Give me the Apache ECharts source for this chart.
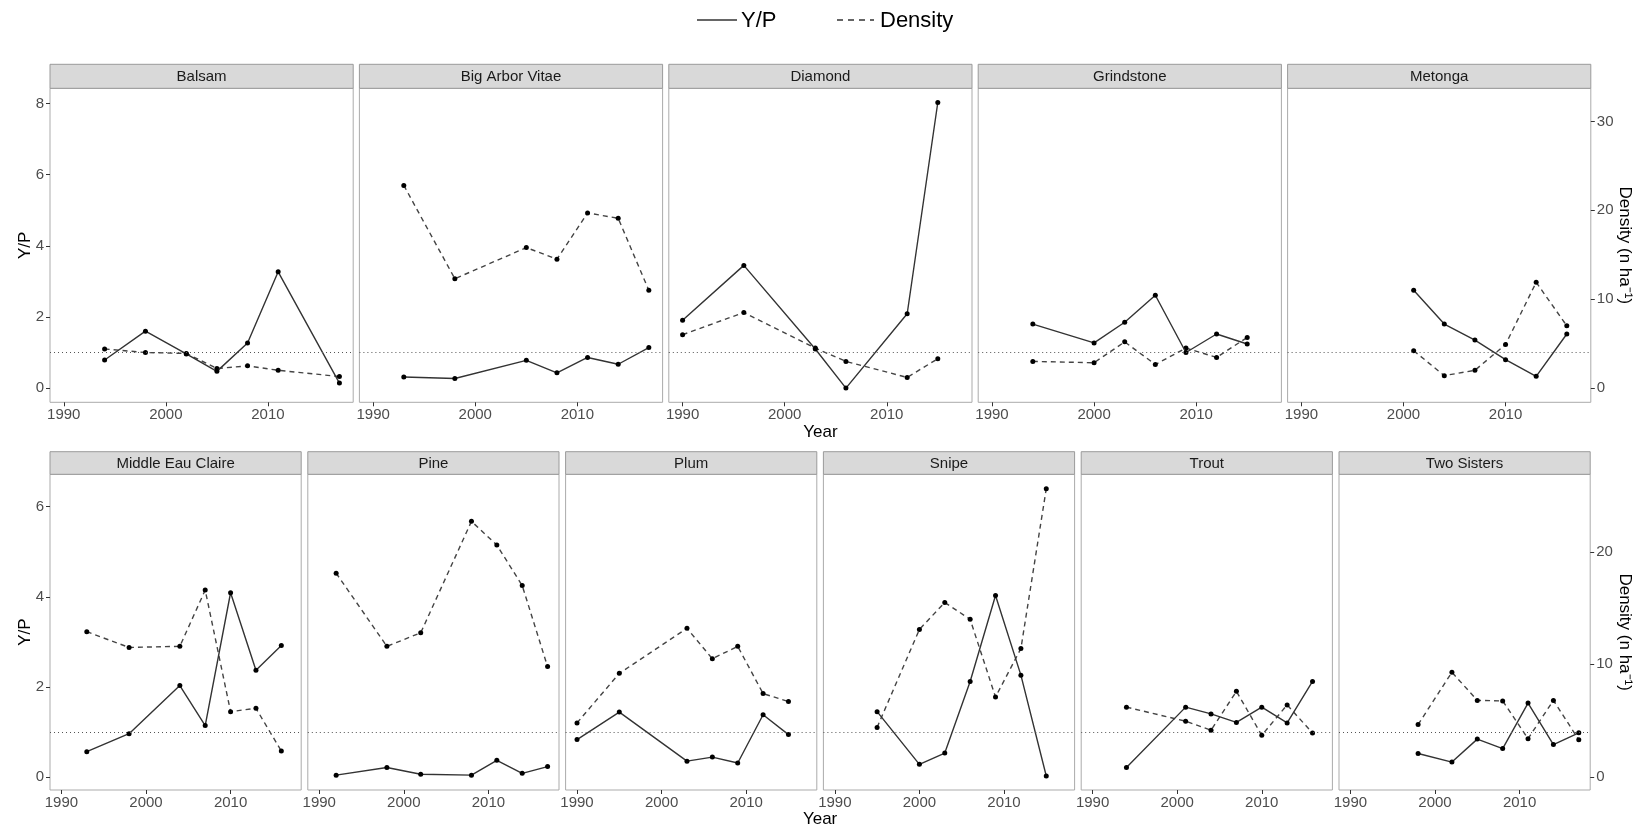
<!DOCTYPE html>
<html>
<head>
<meta charset="utf-8">
<script src="https://cdn.jsdelivr.net/npm/echarts@6/dist/echarts.min.js"></script>
<style>
html,body{margin:0;padding:0;background:#fff;}
#chart{width:1646px;height:830px;}
</style>
</head>
<body>
<div id="chart"></div>
<script>
// ---------------- data ----------------
const lakesTop = ['Balsam', 'Big Arbor Vitae', 'Diamond', 'Grindstone', 'Metonga'];
const lakesBottom = ['Middle Eau Claire', 'Pine', 'Plum', 'Snipe', 'Trout', 'Two Sisters'];

const yearTicks = [1990, 2000, 2010];
const ypTicksTop = [0, 2, 4, 6, 8];
const ypTicksBottom = [0, 2, 4, 6];
const densityTicksTop = [0, 10, 20, 30];
const densityTicksBottom = [0, 10, 20];

const balsamYears = [1994, 1998, 2002, 2005, 2008, 2011, 2017];
const balsamYP = [0.79, 1.60, 0.96, 0.47, 1.27, 3.27, 0.14];
const balsamDensity = [4.4, 4.0, 3.9, 2.2, 2.5, 2.0, 1.3];

const bigArborVitaeYears = [1993, 1998, 2005, 2008, 2011, 2014, 2017];
const bigArborVitaeYP = [0.31, 0.27, 0.78, 0.43, 0.86, 0.67, 1.14];
const bigArborVitaeDensity = [22.8, 12.3, 15.8, 14.5, 19.7, 19.1, 11.0];

const diamondYears = [1990, 1996, 2003, 2006, 2012, 2015];
const diamondYP = [1.91, 3.45, 1.10, 0.00, 2.09, 8.03];
const diamondDensity = [6.0, 8.5, 4.5, 3.0, 1.2, 3.3];

const grindstoneYears = [1994, 2000, 2003, 2006, 2009, 2012, 2015];
const grindstoneYP = [1.80, 1.27, 1.85, 2.61, 1.00, 1.52, 1.24];
const grindstoneDensity = [3.0, 2.85, 5.2, 2.65, 4.5, 3.45, 5.7];

const metongaYears = [2001, 2004, 2007, 2010, 2013, 2016];
const metongaYP = [2.75, 1.80, 1.35, 0.80, 0.33, 1.52];
const metongaDensity = [4.2, 1.4, 2.0, 4.9, 11.9, 7.0];

const middleEauClaireYears = [1993, 1998, 2004, 2007, 2010, 2013, 2016];
const middleEauClaireYP = [0.56, 0.96, 2.03, 1.14, 4.09, 2.37, 2.92];
const middleEauClaireDensity = [12.9, 11.5, 11.6, 16.6, 5.8, 6.1, 2.3];

const pineYears = [1992, 1998, 2002, 2008, 2011, 2014, 2017];
const pineYP = [0.04, 0.21, 0.06, 0.04, 0.37, 0.08, 0.23];
const pineDensity = [18.1, 11.6, 12.8, 22.7, 20.6, 17.0, 9.8];

const plumYears = [1990, 1995, 2003, 2006, 2009, 2012, 2015];
const plumYP = [0.83, 1.44, 0.35, 0.44, 0.31, 1.38, 0.94];
const plumDensity = [4.8, 9.2, 13.2, 10.5, 11.6, 7.4, 6.7];

const snipeYears = [1995, 2000, 2003, 2006, 2009, 2012, 2015];
const snipeYP = [1.45, 0.28, 0.53, 2.12, 4.03, 2.26, 0.02];
const snipeDensity = [4.4, 13.1, 15.5, 14.0, 7.1, 11.4, 25.6];

const troutYears = [1994, 2001, 2004, 2007, 2010, 2013, 2016];
const troutYP = [0.21, 1.55, 1.40, 1.21, 1.55, 1.20, 2.12];
const troutDensity = [6.2, 4.95, 4.15, 7.6, 3.7, 6.4, 3.9];

const twoSistersYears = [1998, 2002, 2005, 2008, 2011, 2014, 2017];
const twoSistersYP = [0.52, 0.33, 0.84, 0.63, 1.64, 0.72, 0.98];
const twoSistersDensity = [4.65, 9.3, 6.8, 6.75, 3.4, 6.8, 3.3];

// ---------------- assembly ----------------
const lakeData = {
  'Balsam': [balsamYears, balsamYP, balsamDensity],
  'Big Arbor Vitae': [bigArborVitaeYears, bigArborVitaeYP, bigArborVitaeDensity],
  'Diamond': [diamondYears, diamondYP, diamondDensity],
  'Grindstone': [grindstoneYears, grindstoneYP, grindstoneDensity],
  'Metonga': [metongaYears, metongaYP, metongaDensity],
  'Middle Eau Claire': [middleEauClaireYears, middleEauClaireYP, middleEauClaireDensity],
  'Pine': [pineYears, pineYP, pineDensity],
  'Plum': [plumYears, plumYP, plumDensity],
  'Snipe': [snipeYears, snipeYP, snipeDensity],
  'Trout': [troutYears, troutYP, troutDensity],
  'Two Sisters': [twoSistersYears, twoSistersYP, twoSistersDensity]
};

const FONT = '"Liberation Sans", Arial, Helvetica, sans-serif';
const DENS_RATIO = 4; // secondary axis scale: density = 4 * Y/P
const X_MIN = 1988.65, X_MAX = 2018.35;

const rows = [
  { lakes: lakesTop, stripTop: 64.3, plotTop: 88.3, plotBottom: 402.3, left0: 50, width: 303.2, gap: 6.2,
    yMin: -0.40, yMax: 8.43, ypTicks: ypTicksTop, densTicks: densityTicksTop, yearY: 432 },
  { lakes: lakesBottom, stripTop: 451.7, plotTop: 474.3, plotBottom: 790, left0: 50, width: 251.2, gap: 6.6,
    yMin: -0.29, yMax: 6.72, ypTicks: ypTicksBottom, densTicks: densityTicksBottom, yearY: 819 }
];

const grids = [], xAxes = [], yAxes = [], series = [], graphics = [];
const tickLabelStyle = { color: '#4d4d4d', fontSize: 15, fontFamily: FONT };

let gi = 0;
rows.forEach(function (row) {
  const n = row.lakes.length;
  row.lakes.forEach(function (lake, j) {
    const left = row.left0 + j * (row.width + row.gap);
    const h = row.plotBottom - row.plotTop;
    grids.push({ left: left, top: row.plotTop, width: row.width, height: h,
      show: true, borderColor: '#ababab', borderWidth: 1, backgroundColor: '#fff' });
    xAxes.push({ type: 'value', gridIndex: gi, min: X_MIN, max: X_MAX, position: 'bottom',
      splitLine: { show: false }, axisLine: { show: false, onZero: false },
      axisTick: { show: true, length: 4, lineStyle: { color: '#333' }, customValues: yearTicks },
      axisLabel: Object.assign({ margin: 5, customValues: yearTicks, formatter: function (v) { return String(v); } }, tickLabelStyle) });
    const first = j === 0, last = j === n - 1;
    yAxes.push({ type: 'value', gridIndex: gi, min: row.yMin, max: row.yMax, position: 'left',
      splitLine: { show: false }, axisLine: { show: false, onZero: false },
      axisTick: { show: first, length: 4, lineStyle: { color: '#333' }, customValues: row.ypTicks },
      axisLabel: Object.assign({ show: first, margin: 6, customValues: row.ypTicks }, tickLabelStyle) });
    yAxes.push({ type: 'value', gridIndex: gi, min: row.yMin * DENS_RATIO, max: row.yMax * DENS_RATIO, position: 'right',
      splitLine: { show: false }, axisLine: { show: false, onZero: false },
      axisTick: { show: last, length: 4, lineStyle: { color: '#333' }, customValues: row.densTicks },
      axisLabel: Object.assign({ show: last, margin: 6, customValues: row.densTicks }, tickLabelStyle) });

    const d = lakeData[lake];
    const ypPts = d[0].map(function (yr, k) { return [yr, d[1][k]]; });
    const densPts = d[0].map(function (yr, k) { return [yr, d[2][k]]; });
    series.push({ name: 'Y/P', type: 'line', xAxisIndex: gi, yAxisIndex: 2 * gi, data: ypPts,
      symbol: 'circle', symbolSize: 5, itemStyle: { color: '#000' },
      lineStyle: { color: '#333', width: 1.4 }, z: 3,
      markLine: { silent: true, symbol: 'none', label: { show: false },
        lineStyle: { color: '#555', width: 1, type: [1, 3] }, data: [{ yAxis: 1 }] } });
    series.push({ name: 'Density', type: 'line', xAxisIndex: gi, yAxisIndex: 2 * gi + 1, data: densPts,
      symbol: 'circle', symbolSize: 5, itemStyle: { color: '#000' },
      lineStyle: { color: '#444', width: 1.4, type: [5, 4] }, z: 2 });

    // strip
    graphics.push({ type: 'rect', shape: { x: left, y: row.stripTop, width: row.width, height: row.plotTop - row.stripTop },
      style: { fill: '#d9d9d9', stroke: '#9a9a9a', lineWidth: 1 }, z: 10 });
    graphics.push({ type: 'text', x: left + row.width / 2, y: (row.stripTop + row.plotTop) / 2 + 1,
      style: { text: lake, fill: '#1a1a1a', font: '15px ' + FONT, textAlign: 'center', textVerticalAlign: 'middle' }, z: 11 });
    gi++;
  });
  const rowRight = row.left0 + n * row.width + (n - 1) * row.gap;
  const midY = (row.plotTop + row.plotBottom) / 2;
  graphics.push({ type: 'text', x: 25, y: midY, rotation: Math.PI / 2,
    style: { text: 'Y/P', fill: '#000', font: '17px ' + FONT, textAlign: 'center', textVerticalAlign: 'middle' } });
  graphics.push({ type: 'text', x: rowRight + 34, y: midY, rotation: -Math.PI / 2,
    style: { text: 'Density (n ha\u207B\u00B9)', fill: '#000', font: '17px ' + FONT, textAlign: 'center', textVerticalAlign: 'middle' } });
  graphics.push({ type: 'text', x: (row.left0 + rowRight) / 2, y: row.yearY,
    style: { text: 'Year', fill: '#000', font: '17px ' + FONT, textAlign: 'center', textVerticalAlign: 'middle' } });
});

// legend
graphics.push({ type: 'line', shape: { x1: 697, y1: 20, x2: 737, y2: 20 }, style: { stroke: '#333', lineWidth: 1.5 } });
graphics.push({ type: 'text', x: 741, y: 21, style: { text: 'Y/P', fill: '#000', font: '22px ' + FONT, textAlign: 'left', textVerticalAlign: 'middle' } });
graphics.push({ type: 'line', shape: { x1: 837, y1: 20, x2: 874, y2: 20 }, style: { stroke: '#333', lineWidth: 1.5, lineDash: [6, 5] } });
graphics.push({ type: 'text', x: 880, y: 21, style: { text: 'Density', fill: '#000', font: '22px ' + FONT, textAlign: 'left', textVerticalAlign: 'middle' } });

const chart = echarts.init(document.getElementById('chart'), null, { renderer: 'canvas' });
chart.setOption({
  animation: false,
  backgroundColor: '#fff',
  textStyle: { fontFamily: FONT },
  grid: grids,
  xAxis: xAxes,
  yAxis: yAxes,
  series: series,
  graphic: { elements: graphics }
});
</script>
</body>
</html>
